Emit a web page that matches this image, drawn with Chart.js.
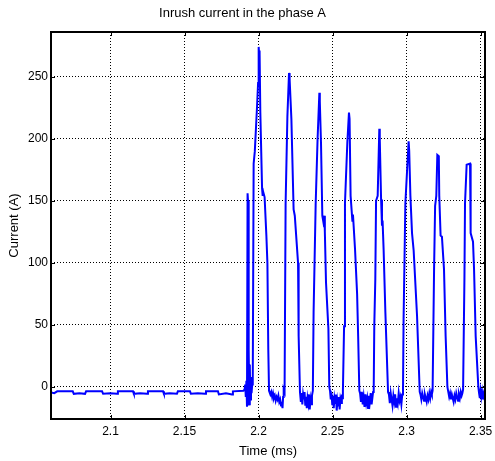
<!DOCTYPE html>
<html>
<head>
<meta charset="utf-8">
<script src="https://cdn.jsdelivr.net/npm/chart.js@4/dist/chart.umd.min.js"></script>
<style>
  body { margin: 0; background: #fff; }
  canvas { display: block; }
</style>
</head>
<body>
<canvas id="inrush" width="495" height="461"></canvas>
<script>
// data (time in ms, current in A)
const timeMs = [
  // before switching
  2.0600, 2.0620, 2.0640, 2.0745, 2.0752, 2.0790, 2.0828, 2.0835, 2.0943, 2.0950, 2.1000, 2.1044, 2.1050,
  2.1152, 2.1158, 2.1200, 2.1247, 2.1253, 2.1355, 2.1361, 2.1400, 2.1449, 2.1455, 2.1537, 2.1543, 2.1590,
  2.1639, 2.1645, 2.1726, 2.1732, 2.1780, 2.1821, 2.1827, 2.1898,
  // switching disturbance
  2.1906, 2.1910, 2.1914, 2.1918, 2.1922, 2.1926, 2.1929, 2.1932, 2.1935, 2.1938, 2.1941, 2.1945, 2.1949, 2.1953, 2.1957,
  // pulse 1
  2.1961, 2.1967, 2.1975, 2.1990, 2.1997, 2.2001, 2.2004, 2.2007, 2.2012, 2.2024, 2.2028, 2.2032, 2.2041, 2.2053, 2.2060, 2.2066, 2.2071,
  2.2080, 2.2086, 2.2092, 2.2098, 2.2104, 2.2110, 2.2116, 2.2122, 2.2128, 2.2134, 2.2140, 2.2146, 2.2152, 2.2157, 2.2162, 2.2166,
  // pulse 2
  2.2170, 2.2176, 2.2183, 2.2195, 2.2206, 2.2210, 2.2222, 2.2237, 2.2245, 2.2267, 2.2271, 2.2280,
  2.2286, 2.2291, 2.2296, 2.2301, 2.2306, 2.2311, 2.2316, 2.2321, 2.2326, 2.2331, 2.2336, 2.2341, 2.2346, 2.2351, 2.2356, 2.2361,
  // pulse 3
  2.2367, 2.2372, 2.2386, 2.2399, 2.2411, 2.2414, 2.2422, 2.2431, 2.2438, 2.2445, 2.2448, 2.2456, 2.2472, 2.2478,
  2.2483, 2.2488, 2.2493, 2.2498, 2.2503, 2.2508, 2.2513, 2.2518, 2.2523, 2.2528, 2.2533, 2.2538, 2.2543, 2.2548, 2.2553, 2.2558, 2.2563, 2.2567,
  // pulse 4
  2.2570, 2.2578, 2.2584, 2.2600, 2.2611, 2.2615, 2.2622, 2.2634, 2.2638, 2.2652, 2.2666, 2.2673, 2.2681,
  2.2686, 2.2692, 2.2698, 2.2704, 2.2710, 2.2716, 2.2722, 2.2728, 2.2734, 2.2740, 2.2746, 2.2752, 2.2758, 2.2764, 2.2770, 2.2774,
  // pulse 5
  2.2778, 2.2782, 2.2789, 2.2794, 2.2805, 2.2816, 2.2819, 2.2828, 2.2834, 2.2838, 2.2845, 2.2857, 2.2875,
  2.2881, 2.2887, 2.2893, 2.2899, 2.2905, 2.2911, 2.2917, 2.2923, 2.2929, 2.2935, 2.2941, 2.2947, 2.2953, 2.2959, 2.2965, 2.2971,
  // pulse 6
  2.2976, 2.2980, 2.2992, 2.3014, 2.3018, 2.3026, 2.3037, 2.3048, 2.3071, 2.3089,
  2.3094, 2.3100, 2.3106, 2.3112, 2.3118, 2.3124, 2.3130, 2.3136, 2.3142, 2.3148, 2.3154, 2.3160, 2.3166, 2.3171,
  // pulse 7
  2.3176, 2.3186, 2.3193, 2.3201, 2.3208, 2.3218, 2.3221, 2.3230, 2.3239, 2.3253, 2.3264, 2.3276,
  2.3282, 2.3288, 2.3294, 2.3300, 2.3306, 2.3312, 2.3318, 2.3324, 2.3330, 2.3336, 2.3342, 2.3348, 2.3354, 2.3360, 2.3366, 2.3372, 2.3377,
  // pulse 8
  2.3382, 2.3391, 2.3395, 2.3406, 2.3429, 2.3433, 2.3449, 2.3456, 2.3467, 2.3485,
  2.3490, 2.3495, 2.3500, 2.3505, 2.3510, 2.3515, 2.3520, 2.3525, 2.3530
];

const currentA = [
  -4.5, -5, -3.5, -3.5, -5.5, -5, -5.5, -3.5, -3.5, -5.5, -5, -5.5, -3.5,
  -3.5, -5.5, -5, -5.5, -3.5, -3.5, -5.5, -5, -5.5, -3.5, -3.5, -5.5, -5,
  -5.5, -3.5, -3.5, -6, -5, -6, -3.5, -3,
  -2, 2, -8, 5, -16, 156, 150, -15, 30, -14, 18, -10, 8, -5, 2,
  3, 180, 190, 226, 245, 274, 268, 271, 222, 160, 154, 157, 153, 122, 100, 30, -3,
  -6, -4, -8, -5, -9, -7, -11, -8, -10, -7, -12, -10, -15, -12, -17, -8,
  -2, -4, 148, 218, 253, 248, 216, 143, 138, 100, 41, -4,
  -12, -5, -14, -6, -10, -4, -15, -8, -17, -9, -13, -6, -18, -10, -14, -7,
  -3, 60, 147, 200, 237, 230, 197, 138, 133, 138, 125, 84, 47, 0,
  -3, -10, -5, -14, -7, -17, -9, -13, -6, -19, -11, -15, -8, -18, -10, -13, -6, -9,
  -3, 49, 148, 197, 221, 216, 154, 134, 139, 111, 75, 41, -3,
  -5, -12, -4, -14, -8, -16, -6, -13, -9, -17, -7, -12, -5, -14, -8, -4,
  -3, 49, 87, 150, 154, 208, 200, 151, 130, 134, 111, 60, -4,
  -6, -13, -5, -10, -15, -7, -12, -6, -16, -9, -13, -5, -11, -8, -14, -6,
  -3, 55, 148, 198, 190, 154, 124, 110, 57, -4,
  -6, -10, -5, -8, -11, -6, -9, -12, -7, -10, -5, -9, -4, -6,
  -3, 95, 146, 154, 187, 186, 154, 122, 121, 95, 41, 0,
  -4, -8, -5, -10, -6, -9, -12, -7, -10, -5, -8, -11, -6, -9, -4, -7, -5,
  -2, 87, 148, 179, 180, 124, 117, 95, 41, 0,
  -5, -9, -3, -8, -4, -10, -6, -9, -11
];

const xTicks = [2.1, 2.15, 2.2, 2.25, 2.3, 2.35];
const yTicks = [0, 50, 100, 150, 200, 250];
const xRange = [2.0598, 2.353];
const yRange = [-25.8, 286];

const fontFamily = "'Liberation Sans', Arial, Helvetica, sans-serif";

// matlab style box with inward ticks on all four sides
const axesBox = {
  id: 'axesBox',
  afterDatasetsDraw(chart) {
    const { ctx, chartArea: a, scales } = chart;
    ctx.save();
    ctx.strokeStyle = '#000';
    ctx.lineWidth = 1;
    ctx.beginPath();
    xTicks.forEach(v => {
      const px = Math.round(scales.x.getPixelForValue(v)) + 0.5;
      ctx.moveTo(px, a.bottom); ctx.lineTo(px, a.bottom - 4);
      ctx.moveTo(px, a.top); ctx.lineTo(px, a.top + 4);
    });
    yTicks.forEach(v => {
      const py = Math.round(scales.y.getPixelForValue(v)) + 0.5;
      ctx.moveTo(a.left, py); ctx.lineTo(a.left + 4, py);
      ctx.moveTo(a.right, py); ctx.lineTo(a.right - 4, py);
    });
    ctx.stroke();
    ctx.lineWidth = 2;
    ctx.strokeRect(a.left, a.top, a.right - a.left, a.bottom - a.top);
    ctx.restore();
  }
};

const ctx = document.getElementById('inrush').getContext('2d');

new Chart(ctx, {
  type: 'line',
  data: {
    datasets: [{
      label: 'Phase A',
      data: timeMs.map((t, i) => ({ x: t, y: currentA[i] })),
      borderColor: '#0000ff',
      borderWidth: 2,
      pointRadius: 0,
      tension: 0,
      fill: false
    }]
  },
  options: {
    responsive: false,
    animation: false,
    devicePixelRatio: 1,
    layout: { padding: { left: 0, right: 10, top: 0, bottom: 0 } },
    plugins: {
      legend: { display: false },
      tooltip: { enabled: false },
      title: {
        display: true,
        text: 'Inrush current in the phase A',
        color: '#000',
        font: { family: fontFamily, size: 13, weight: 'normal', lineHeight: 1.2 },
        padding: { top: 6, bottom: 10.4 }
      }
    },
    scales: {
      x: {
        type: 'linear',
        min: xRange[0],
        max: xRange[1],
        afterBuildTicks: s => { s.ticks = xTicks.map(v => ({ value: v })); },
        // fixed height, and no extra room kept for the last label
        afterFit: s => { s.height = 42; s.paddingLeft = 0; s.paddingRight = 0; },
        ticks: {
          color: '#000',
          font: { family: fontFamily, size: 12 },
          padding: 5,
          maxRotation: 0,
          autoSkip: false,
          callback: v => String(v)
        },
        grid: { color: '#000', lineWidth: 1, drawTicks: false },
        border: { display: false, dash: [1, 2] },
        title: {
          display: true,
          text: 'Time (ms)',
          color: '#000',
          font: { family: fontFamily, size: 13, lineHeight: 1.2 },
          padding: { top: 0, bottom: 2.2 }
        }
      },
      y: {
        type: 'linear',
        min: yRange[0],
        max: yRange[1],
        afterBuildTicks: s => { s.ticks = yTicks.map(v => ({ value: v })); },
        afterFit: s => { s.width = 51; },
        ticks: {
          color: '#000',
          font: { family: fontFamily, size: 12 },
          padding: 3,
          callback: v => String(v)
        },
        grid: { color: '#000', lineWidth: 1, drawTicks: false },
        border: { display: false, dash: [1, 2] },
        title: {
          display: true,
          text: 'Current (A)',
          color: '#000',
          font: { family: fontFamily, size: 13, lineHeight: 1.2 },
          padding: { top: 6.2, bottom: 0 }
        }
      }
    }
  },
  plugins: [axesBox]
});
</script>
</body>
</html>
